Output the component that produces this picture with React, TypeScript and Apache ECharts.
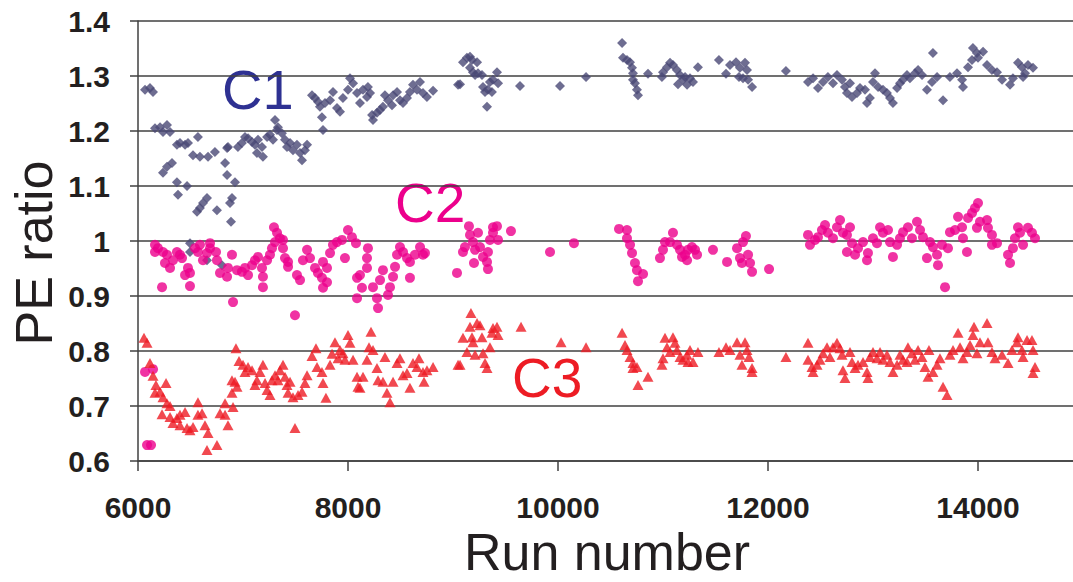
import React, { useEffect, useRef } from "react";
import * as echarts from "echarts";

// Axis settings
const xMin = 6000;
const xMax = 16000;
const xInterval = 2000;
const yMin = 0.6;
const yMax = 1.4;
const yInterval = 0.1;

// C1 (diamonds): [run number, PE ratio]
const c1Points: [number, number][] = [
  [6067, 1.275], [6114, 1.278], [6143, 1.271],
  [6162, 1.205], [6210, 1.207], [6238, 1.198], [6276, 1.211], [6305, 1.198],
  [6371, 1.175], [6400, 1.178], [6448, 1.175], [6476, 1.178], [6571, 1.189],
  [6524, 1.156], [6590, 1.153], [6667, 1.153], [6733, 1.162], [6848, 1.169],
  [6324, 1.142], [6276, 1.135], [6238, 1.124],
  [6371, 1.107], [6467, 1.1], [6381, 1.084],
  [6657, 1.078], [6619, 1.069], [6590, 1.06], [6562, 1.053], [6752, 1.056],
  [6829, 1.142], [6848, 1.12], [6924, 1.107],
  [6895, 1.078], [6876, 1.069], [6886, 1.035], [6857, 1.171],
  [6495, 0.996], [6495, 0.98], [6657, 0.965], [6800, 0.956],
  [6952, 1.171], [6990, 1.178], [7019, 1.189], [7048, 1.187], [7086, 1.18],
  [7114, 1.175], [7143, 1.184], [7181, 1.171], [7133, 1.16], [7190, 1.153],
  [7229, 1.189], [7257, 1.193], [7286, 1.184], [7324, 1.202], [7305, 1.22],
  [7333, 1.207], [7371, 1.196], [7400, 1.184], [7419, 1.171], [7448, 1.178],
  [7476, 1.165], [7514, 1.175], [7543, 1.16], [7562, 1.147], [7590, 1.165],
  [7610, 1.175],
  [7657, 1.265], [7686, 1.26], [7714, 1.253], [7733, 1.244], [7752, 1.225], [7762, 1.202],
  [7781, 1.251], [7829, 1.256], [7857, 1.271], [7895, 1.242], [7924, 1.235],
  [7952, 1.26], [8000, 1.275], [8019, 1.296], [8048, 1.287], [8086, 1.269],
  [8114, 1.251], [8143, 1.275], [8181, 1.262], [8190, 1.28], [8210, 1.269],
  [8238, 1.22], [8229, 1.229], [8276, 1.233], [8305, 1.238], [8333, 1.244],
  [8352, 1.265], [8381, 1.256], [8419, 1.247], [8429, 1.265], [8467, 1.271],
  [8495, 1.256], [8524, 1.251], [8562, 1.26], [8590, 1.271], [8619, 1.284],
  [8657, 1.275], [8686, 1.289], [8714, 1.269], [8752, 1.262], [8810, 1.273],
  [9048, 1.284], [9067, 1.285],
  [9095, 1.325], [9133, 1.333], [9162, 1.335], [9181, 1.329], [9229, 1.325],
  [9162, 1.315], [9190, 1.307], [9210, 1.302], [9238, 1.305], [9276, 1.302],
  [9286, 1.28], [9305, 1.271], [9333, 1.275], [9352, 1.289], [9381, 1.293],
  [9419, 1.307], [9429, 1.287], [9324, 1.244], [9371, 1.271],
  [9638, 1.282], [10019, 1.282], [10267, 1.298],
  [10610, 1.36], [10619, 1.333], [10657, 1.329], [10686, 1.325], [10705, 1.315],
  [10714, 1.305], [10714, 1.293], [10733, 1.287], [10752, 1.275], [10762, 1.265],
  [10857, 1.304],
  [10990, 1.298], [11000, 1.307], [11038, 1.316], [11067, 1.324], [11095, 1.32],
  [11133, 1.311], [11162, 1.302], [11143, 1.285], [11190, 1.293], [11229, 1.284],
  [11257, 1.296], [11286, 1.289], [11210, 1.298], [11333, 1.316],
  [11533, 1.329], [11600, 1.304], [11638, 1.32], [11695, 1.325], [11733, 1.315],
  [11781, 1.324], [11800, 1.311], [11724, 1.298], [11762, 1.296], [11810, 1.293],
  [11848, 1.28],
  [12171, 1.309],
  [12381, 1.289], [12429, 1.296], [12476, 1.278], [12524, 1.289], [12571, 1.298],
  [12619, 1.287], [12657, 1.302], [12705, 1.293], [12733, 1.28], [12781, 1.287],
  [12752, 1.269], [12800, 1.262], [12848, 1.269], [12876, 1.278], [12924, 1.275],
  [12943, 1.251], [12971, 1.26], [13000, 1.289], [13019, 1.305], [13048, 1.28],
  [13095, 1.275], [13133, 1.269], [13162, 1.26], [13190, 1.251], [13229, 1.278],
  [13257, 1.287], [13286, 1.293], [13324, 1.302], [13352, 1.296], [13400, 1.305],
  [13429, 1.311], [13467, 1.302], [13514, 1.275], [13562, 1.289], [13571, 1.342],
  [13610, 1.298], [13667, 1.256], [13733, 1.298], [13800, 1.305], [13848, 1.293],
  [13857, 1.28], [13905, 1.316], [13943, 1.329], [13952, 1.351], [13990, 1.342],
  [14000, 1.333], [14048, 1.344], [14086, 1.32], [14133, 1.311], [14181, 1.307],
  [14229, 1.293], [14305, 1.284], [14333, 1.296], [14381, 1.324], [14419, 1.316],
  [14448, 1.305], [14476, 1.32], [14524, 1.315], [14429, 1.298]
];

// C2 (circles): [run number, PE ratio]
const c2Points: [number, number][] = [
  [6067, 0.762], [6143, 0.767], [6086, 0.629], [6124, 0.629],
  [6162, 0.993], [6190, 0.987], [6162, 0.98], [6238, 0.98], [6276, 0.975],
  [6257, 0.96], [6305, 0.951], [6333, 0.965], [6371, 0.98], [6400, 0.975],
  [6419, 0.969], [6229, 0.916], [6448, 0.938], [6476, 0.951], [6495, 0.942],
  [6495, 0.918], [6543, 0.987], [6571, 0.98], [6590, 0.993], [6619, 0.965],
  [6657, 0.978], [6686, 0.996], [6686, 0.987], [6743, 0.98], [6752, 0.965],
  [6781, 0.942], [6848, 0.935], [6857, 0.951], [6895, 0.975], [6905, 0.889],
  [6943, 0.947], [6990, 0.944], [7019, 0.951], [7048, 0.938], [7086, 0.956],
  [7114, 0.965], [7143, 0.971], [7181, 0.951], [7190, 0.916], [7190, 0.935],
  [7229, 0.965], [7257, 0.975], [7276, 0.987], [7305, 0.998], [7295, 1.025],
  [7324, 1.015], [7352, 1.005], [7381, 1.002], [7381, 0.987], [7400, 0.969],
  [7429, 0.962], [7429, 0.953], [7495, 0.865], [7514, 0.938], [7543, 0.929],
  [7571, 0.965], [7610, 0.984], [7638, 0.969], [7686, 0.951], [7714, 0.942],
  [7752, 0.933], [7762, 0.915], [7800, 0.925], [7800, 0.951], [7762, 0.962],
  [7829, 0.978], [7857, 0.993], [7895, 0.998], [7943, 1.002], [7971, 0.969],
  [8000, 1.02], [8038, 1.007], [8076, 0.996], [8086, 0.933], [8114, 0.938],
  [8086, 0.896], [8133, 0.915], [8181, 0.969], [8190, 0.987], [8181, 0.951],
  [8238, 0.916], [8276, 0.896], [8286, 0.878], [8305, 0.929], [8333, 0.947],
  [8381, 0.902], [8400, 0.916], [8429, 0.935], [8448, 0.953], [8467, 0.975],
  [8495, 0.989], [8524, 0.98], [8562, 0.969], [8590, 0.962], [8590, 0.933],
  [8638, 0.975], [8686, 0.989], [8714, 0.975], [8733, 0.978],
  [9038, 0.942], [9095, 0.98], [9114, 0.989], [9152, 1.027], [9162, 1.011],
  [9190, 0.998], [9210, 0.984], [9200, 0.96], [9238, 1.015], [9257, 0.989],
  [9286, 0.971], [9324, 0.962], [9333, 0.949], [9333, 0.98], [9352, 1.002],
  [9381, 1.025], [9419, 1.027], [9381, 1.015], [9429, 1.002], [9552, 1.018],
  [9924, 0.98], [10152, 0.996],
  [10581, 1.022], [10657, 1.02], [10657, 1.005], [10686, 0.993], [10705, 0.978],
  [10733, 0.96], [10752, 0.947], [10810, 0.94], [10762, 0.927],
  [10971, 0.969], [11000, 0.984], [11019, 0.998], [11095, 1.015], [11067, 0.998],
  [11133, 0.993], [11162, 0.984], [11181, 0.971], [11229, 0.965], [11238, 0.984],
  [11276, 0.989], [11305, 0.984], [11324, 0.975], [11210, 0.975], [11476, 0.984],
  [11610, 0.962], [11705, 0.987], [11733, 0.969], [11752, 0.96], [11762, 0.998],
  [11790, 1.009], [11810, 0.975], [11829, 0.96], [11848, 0.944], [12010, 0.949],
  [12381, 1.011], [12400, 0.993], [12448, 1.002], [12476, 1.007], [12514, 1.02],
  [12543, 1.029], [12571, 1.015], [12619, 1.005], [12657, 1.025], [12686, 1.038],
  [12714, 1.015], [12752, 1.011], [12781, 1.025], [12752, 0.98], [12800, 0.996],
  [12829, 0.975], [12857, 0.987], [12905, 0.998], [12943, 0.965], [12952, 0.978],
  [13000, 1.005], [13038, 0.996], [13067, 1.025], [13095, 1.015], [13143, 1.02],
  [13162, 0.998], [13190, 0.971], [13229, 0.993], [13257, 1.005], [13286, 1.016],
  [13333, 1.025], [13371, 1.005], [13419, 1.035], [13448, 1.02], [13476, 1.007],
  [13514, 0.969], [13543, 0.998], [13571, 0.989], [13610, 0.975], [13619, 0.956],
  [13657, 0.993], [13686, 0.916], [13714, 0.987], [13733, 1.016], [13781, 1.02],
  [13810, 1.044], [13848, 1.025], [13857, 1.005], [13895, 0.98], [13905, 1.042],
  [13943, 1.051], [13971, 1.06], [14000, 1.069], [13990, 1.024], [14019, 1.035],
  [14086, 1.038], [14095, 1.024], [14133, 1.011], [14181, 0.996], [14133, 0.993],
  [14286, 0.975], [14305, 0.96], [14333, 0.987], [14352, 1.005], [14381, 1.025],
  [14400, 1.015], [14429, 0.993], [14476, 1.024], [14514, 1.015], [14543, 1.005]
];

// C3 (triangles): [run number, PE ratio]
const c3Points: [number, number][] = [
  [6057, 0.824], [6086, 0.815], [6114, 0.778], [6143, 0.755], [6171, 0.738],
  [6162, 0.724], [6210, 0.726], [6238, 0.716], [6267, 0.742], [6276, 0.705],
  [6305, 0.7], [6229, 0.685], [6305, 0.68], [6333, 0.669], [6371, 0.678],
  [6400, 0.684], [6400, 0.665], [6448, 0.689], [6467, 0.66], [6495, 0.656],
  [6524, 0.662], [6571, 0.707], [6571, 0.684], [6610, 0.687], [6638, 0.665],
  [6667, 0.651], [6657, 0.62], [6752, 0.629], [6781, 0.687], [6829, 0.705],
  [6829, 0.684], [6857, 0.665], [6895, 0.724], [6905, 0.698], [6933, 0.805],
  [6895, 0.747], [6924, 0.744], [6943, 0.735], [6962, 0.782], [7000, 0.775],
  [7019, 0.762], [7048, 0.771], [7086, 0.765], [7114, 0.738], [7133, 0.747],
  [7162, 0.762], [7190, 0.775], [7210, 0.742], [7229, 0.729], [7257, 0.72],
  [7276, 0.747], [7305, 0.756], [7333, 0.747], [7352, 0.765], [7381, 0.775],
  [7400, 0.753], [7419, 0.738], [7448, 0.744], [7429, 0.724], [7476, 0.716],
  [7495, 0.66], [7524, 0.72], [7562, 0.726], [7590, 0.742], [7610, 0.756],
  [7657, 0.791], [7695, 0.805], [7705, 0.771], [7752, 0.762], [7762, 0.742],
  [7790, 0.715], [7829, 0.775], [7848, 0.795], [7876, 0.816], [7924, 0.802],
  [7905, 0.787], [7952, 0.796], [7971, 0.784], [8000, 0.829], [8019, 0.815],
  [8048, 0.784], [8086, 0.753], [8095, 0.735], [8114, 0.733], [8143, 0.753],
  [8181, 0.784], [8200, 0.807], [8219, 0.835], [8238, 0.802], [8276, 0.769],
  [8286, 0.747], [8333, 0.744], [8352, 0.789], [8371, 0.724], [8400, 0.707],
  [8429, 0.744], [8467, 0.778], [8495, 0.787], [8524, 0.756], [8562, 0.76],
  [8590, 0.733], [8619, 0.778], [8657, 0.771], [8676, 0.787], [8714, 0.762],
  [8724, 0.744], [8752, 0.765], [8810, 0.771],
  [9048, 0.775], [9067, 0.775], [9095, 0.824], [9133, 0.798], [9171, 0.869],
  [9162, 0.844], [9181, 0.825], [9190, 0.816], [9210, 0.793], [9229, 0.851],
  [9257, 0.847], [9276, 0.825], [9286, 0.796], [9305, 0.778], [9324, 0.769],
  [9352, 0.807], [9371, 0.833], [9381, 0.842], [9419, 0.844], [9429, 0.829],
  [9648, 0.844], [10029, 0.816], [10267, 0.807],
  [10610, 0.833], [10638, 0.811], [10657, 0.802], [10686, 0.789], [10714, 0.778],
  [10714, 0.769], [10752, 0.771], [10762, 0.738], [10857, 0.753],
  [10990, 0.775], [11000, 0.787], [11019, 0.824], [11038, 0.807], [11067, 0.798],
  [11095, 0.825], [11114, 0.815], [11133, 0.802], [11162, 0.789], [11190, 0.784],
  [11229, 0.793], [11238, 0.78], [11257, 0.802], [11286, 0.78], [11333, 0.798],
  [11533, 0.798], [11600, 0.807], [11638, 0.802], [11705, 0.816], [11733, 0.793],
  [11752, 0.775], [11781, 0.816], [11800, 0.802], [11819, 0.789], [11848, 0.769],
  [11848, 0.762],
  [12171, 0.789], [12381, 0.815], [12381, 0.784], [12419, 0.771], [12429, 0.762],
  [12467, 0.775], [12495, 0.784], [12524, 0.796], [12562, 0.807], [12590, 0.789],
  [12619, 0.807], [12657, 0.815], [12686, 0.805], [12705, 0.793], [12714, 0.765],
  [12733, 0.751], [12781, 0.798], [12800, 0.78], [12829, 0.769], [12857, 0.775],
  [12905, 0.78], [12943, 0.762], [12952, 0.751], [12971, 0.789], [13000, 0.798],
  [13038, 0.787], [13067, 0.798], [13095, 0.784], [13133, 0.793], [13162, 0.78],
  [13190, 0.762], [13229, 0.775], [13257, 0.793], [13286, 0.784], [13324, 0.78],
  [13333, 0.807], [13371, 0.796], [13400, 0.784], [13429, 0.802], [13467, 0.789],
  [13495, 0.771], [13524, 0.753], [13533, 0.802], [13571, 0.762], [13610, 0.775],
  [13638, 0.787], [13667, 0.735], [13705, 0.72], [13733, 0.793], [13762, 0.802],
  [13810, 0.833], [13829, 0.807], [13857, 0.787], [13895, 0.798], [13924, 0.811],
  [13952, 0.829], [13962, 0.844], [13990, 0.796], [14019, 0.816], [14086, 0.851],
  [14095, 0.816], [14133, 0.798], [14162, 0.787], [14229, 0.793], [14286, 0.778],
  [14324, 0.802], [14371, 0.816], [14381, 0.825], [14419, 0.802], [14429, 0.789],
  [14467, 0.82], [14514, 0.82], [14524, 0.802], [14524, 0.76], [14543, 0.771]
];

const seriesNames = ["C1", "C2", "C3"];
const xTitle = "Run number";
const yTitle = "PE ratio";

const FONT = '"Liberation Sans", Arial, Helvetica, sans-serif';
const TEXT_COLOR = "#231f20";
const AXIS_COLOR = "#404040";

export default function App() {
  const ref = useRef<HTMLDivElement>(null);

  useEffect(() => {
    if (!ref.current) return;
    const chart = echarts.init(ref.current, null, { renderer: "svg" });
    chart.setOption({
      animation: false,
      backgroundColor: "#ffffff",
      grid: {
        left: 138,
        top: 21,
        width: 1050,
        height: 440,
        containLabel: false,
        outerBoundsMode: "none",
      },
      xAxis: {
        type: "value",
        min: xMin,
        max: xMax,
        interval: xInterval,
        axisLine: { show: true, lineStyle: { color: AXIS_COLOR, width: 1.5 } },
        axisTick: { show: true, length: 10, lineStyle: { color: AXIS_COLOR, width: 1.5 } },
        axisLabel: {
          color: TEXT_COLOR,
          fontFamily: FONT,
          fontSize: 30,
          fontWeight: "bold",
          margin: 31,
          showMaxLabel: false,
          formatter: (v: number) => String(v),
        },
        splitLine: { show: false },
      },
      yAxis: {
        type: "value",
        min: yMin,
        max: yMax,
        interval: yInterval,
        axisLine: { show: true, lineStyle: { color: AXIS_COLOR, width: 1.5 } },
        axisTick: { show: true, length: 8, lineStyle: { color: AXIS_COLOR, width: 1.5 } },
        axisLabel: {
          color: TEXT_COLOR,
          fontFamily: FONT,
          fontSize: 30,
          fontWeight: "bold",
          margin: 28,
        },
        splitLine: { show: true, lineStyle: { color: AXIS_COLOR, width: 1.5 } },
      },
      series: [
        {
          name: seriesNames[0],
          type: "scatter",
          symbol: "diamond",
          symbolSize: 10,
          itemStyle: { color: "#4a4875" },
          data: c1Points,
        },
        {
          name: seriesNames[1],
          type: "scatter",
          symbol: "circle",
          symbolSize: 10,
          itemStyle: { color: "#ec008c" },
          data: c2Points,
        },
        {
          name: seriesNames[2],
          type: "scatter",
          symbol: "triangle",
          symbolSize: [11, 10],
          itemStyle: { color: "#ed1c24" },
          data: c3Points,
        },
      ],
      graphic: [
        {
          type: "text",
          x: 34,
          y: 253,
          rotation: Math.PI / 2,
          style: {
            text: yTitle,
            font: `52px ${FONT}`,
            fill: TEXT_COLOR,
            align: "center",
            verticalAlign: "middle",
          },
        },
        {
          type: "text",
          x: 607,
          y: 552,
          style: {
            text: xTitle,
            font: `52px ${FONT}`,
            fill: TEXT_COLOR,
            align: "center",
            verticalAlign: "middle",
          },
        },
        {
          type: "text",
          x: 222,
          y: 89,
          style: {
            text: seriesNames[0],
            font: `56px ${FONT}`,
            fill: "#2e3192",
            align: "left",
            verticalAlign: "middle",
          },
        },
        {
          type: "text",
          x: 395,
          y: 203,
          style: {
            text: seriesNames[1],
            font: `55px ${FONT}`,
            fill: "#ec008c",
            align: "left",
            verticalAlign: "middle",
          },
        },
        {
          type: "text",
          x: 512,
          y: 378,
          style: {
            text: seriesNames[2],
            font: `55px ${FONT}`,
            fill: "#ed1c24",
            align: "left",
            verticalAlign: "middle",
          },
        },
      ],
    });
    return () => chart.dispose();
  }, []);

  return (
    <div
      ref={ref}
      style={{ position: "fixed", left: 0, top: 0, width: 1073, height: 582 }}
    />
  );
}
